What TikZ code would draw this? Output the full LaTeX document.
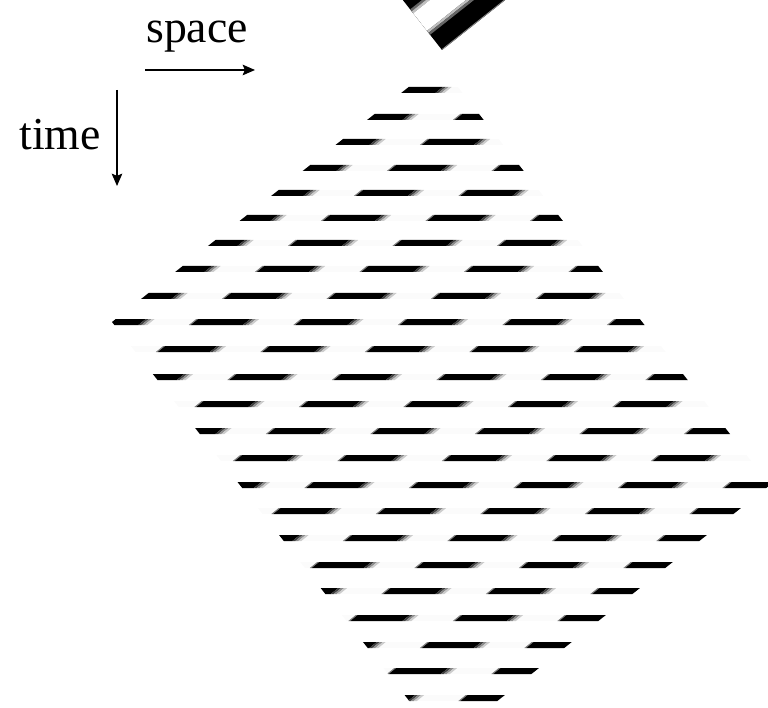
\documentclass[tikz,border=0pt]{standalone}
\usepackage{fontspec}
\setmainfont{Liberation Serif}
\usetikzlibrary{arrows.meta}

% one piece of a sampled row: from x1 to x2 on the row at y
\newcommand{\slantbar}[4]{%
  \fill[#4] (#1-3.7,#3+3) -- (#1+3.7,#3-3) -- (#2+3.7,#3-3) -- (#2-3.7,#3+3) -- cycle;}
% one band of the grating at the top, between x+1.263y=c1 and c2
\newcommand{\gratingband}[3]{%
  \fill[#3] (#1+6.3,-5) -- (#2+6.3,-5) -- (#2-75.8,60) -- (#1-75.8,60) -- cycle;}

\begin{document}
\begin{tikzpicture}[x=0.01cm, y=-0.01cm,
  lbl/.style={font=\fontsize{13}{15}\selectfont, inner sep=0pt},
  axis/.style={-{Stealth[length=3.5pt,width=3pt,inset=0.6pt]}, line width=0.4pt},
  slit/.style={fill=black!1.5}
]
\useasboundingbox (0,0) rectangle (768,707);

% axes
\node[lbl, anchor=base] (spacelbl) at (197,43) {space};
\node[lbl, anchor=base] (timelbl) at (60,150) {time};
\coordinate (sp0) at (145,70);
\coordinate (sp1) at (255,70);
\coordinate (tm0) at (117,90);
\coordinate (tm1) at (117,186);
\draw[axis] (sp0) -- (sp1);
\draw[axis] (tm0) -- (tm1);

% grating, cut off at the top
\begin{scope}
  \clip (442,50) -- (402.8,0) -- (505.2,0) -- cycle;
  \fill[black] (380,-5) rectangle (520,55);
  \gratingband{422}{426}{black!60}
  \gratingband{426}{430}{black!25}
  \gratingband{430}{466}{white}
  \gratingband{466}{470}{black!25}
  \gratingband{470}{474}{black!60}
  \draw[black!45, line width=0.45pt] (442,50) -- (505.2,0);
\end{scope}

% sampled rows
\begin{scope}
  \clip (439,63) -- (112,322) -- (443,744) -- (770,485) -- cycle;
  \foreach \yy [count=\k from 0] in {90,117,142,168,193,218,243,269,296,322,349,377,
      404,431,458,485,511,538,565,591,618,645,671,698} {
    \fill[slit] (100,\yy-3) rectangle (780,\yy+3);
    \foreach \m in {0,...,14} {
      \pgfmathsetmacro{\xl}{73.5-33*\k+104.5*\m}
      \slantbar{\xl-2}{\xl}{\yy}{black!50}
      \slantbar{\xl}{\xl+52}{\yy}{black}
      \slantbar{\xl+52}{\xl+55}{\yy}{black!75}
      \slantbar{\xl+55}{\xl+58}{\yy}{black!45}
      \slantbar{\xl+58}{\xl+61}{\yy}{black!20}
    }
  }
\end{scope}
\end{tikzpicture}
\end{document}
